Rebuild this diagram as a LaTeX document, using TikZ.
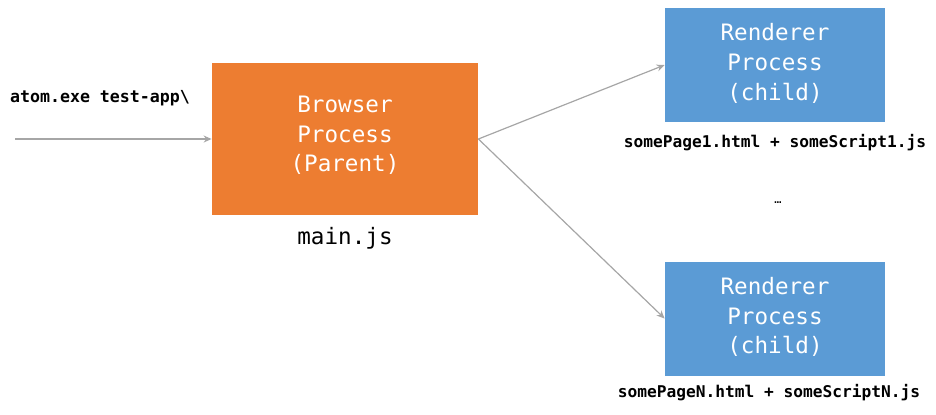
\documentclass[tikz,border=0pt]{standalone}
\usepackage{fontspec}
\setmonofont{DejaVu Sans Mono}
\usetikzlibrary{positioning,arrows.meta}
\definecolor{browserorange}{HTML}{ED7D31}
\definecolor{rendererblue}{HTML}{5B9BD5}
\definecolor{linkgray}{HTML}{A6A6A6}
\tikzset{
  procbox/.style={align=center, text=white, inner sep=0pt,
    font=\ttfamily\fontsize{11.3}{14.8}\selectfont},
  browserbox/.style={procbox, fill=browserorange, minimum width=133pt, minimum height=76pt,
    text depth=5pt},
  rendererbox/.style={procbox, fill=rendererblue, minimum width=110pt, minimum height=57pt,
    text depth=3pt},
  filelbl/.style={inner sep=0pt, font=\ttfamily\bfseries\fontsize{8.1}{10}\selectfont},
  arrow/.style={-{Stealth[length=4pt, width=3.5pt]}, draw=linkgray, line width=0.6pt}
}
\begin{document}
\begin{tikzpicture}[x=0.5pt, y=-0.5pt]
  \useasboundingbox (0,0) rectangle (936,414);

  \node (browser) [browserbox] at (345,139) {Browser\\Process\\(Parent)};
  \node (render1) [rendererbox] at (775,65) {Renderer\\Process\\(child)};
  \node (renderN) [rendererbox] at (775,318.5) {Renderer\\Process\\(child)};

  % labels
  \node (mainjs) [below=6pt of browser, inner sep=0pt, font=\ttfamily\fontsize{11.3}{14}\selectfont] {main.js};
  \node (files1) [filelbl, below=6pt of render1] {somePage1.html + someScript1.js};
  \node (filesN) [filelbl, below=4pt of renderN, xshift=-3pt] {somePageN.html + someScriptN.js};
  \node (dots) [inner sep=0pt, font=\ttfamily\fontsize{6}{6}\selectfont] at (778,203) {…};
  \node (cmd) [filelbl, font=\ttfamily\bfseries\fontsize{8.3}{10}\selectfont] at (100,98) {atom.exe test-app\textbackslash};

  \coordinate (start) at (15,139);
  \draw[arrow] (start) -- (browser.west);
  \draw[arrow] (browser.east) -- (render1.west);
  \draw[arrow] (browser.east) -- (renderN.west);
\end{tikzpicture}
\end{document}
